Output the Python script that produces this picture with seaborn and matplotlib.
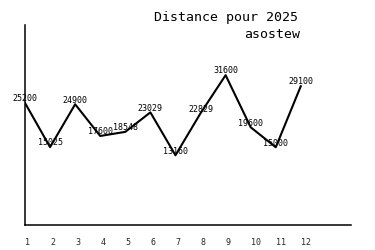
import matplotlib
matplotlib.use("Agg")
import matplotlib.pyplot as plt
import seaborn as sns
import pandas as pd

months = [1, 2, 3, 4, 5, 6, 7, 8, 9, 10, 11, 12]
distances = [25200, 15025, 24900, 17600, 18548, 23029, 13160, 22829, 31600, 19600, 15000, 29100]
tick_labels = ["1", "2", "3", "4", "5", "6", "7", "8", "9", "10", "11", "12"]
title = "Distance pour 2025"
subtitle = "asostew"

sns.set_style("white")
plt.rcParams['font.family'] = ['DejaVu Sans Mono', 'DejaVu Sans']

df = pd.DataFrame({"month": months, "distance": distances})

fig = plt.figure(figsize=(3.75, 2.5), dpi=100)
ax = fig.add_axes([25/375, 25/250, 326/375, 200/250])

sns.lineplot(data=df, x="month", y="distance", ax=ax, color="black", linewidth=1.5)

for m, d in zip(months, distances):
    ax.annotate(str(d), (m, d), xytext=(0, 3), textcoords="offset points",
                ha="center", va="center", fontsize=6, color="black")

ax.set_xlim(1, 14)
ax.set_ylim(-2900, 43150)
ax.set_xticks(months)
ax.set_xticklabels(tick_labels, fontsize=6, ha="left")
ax.set_yticks([])
ax.tick_params(axis="x", length=0, pad=9.5)
ax.set_xlabel("")
ax.set_ylabel("")
for s in ["top", "right"]:
    ax.spines[s].set_visible(False)
for s in ["left", "bottom"]:
    ax.spines[s].set_color("black")
    ax.spines[s].set_linewidth(1.1)

fig.text(298/375, 1 - 18/250, title, ha="right", va="center", fontsize=9.5, color="black")
fig.text(300/375, 1 - 34/250, subtitle, ha="right", va="center", fontsize=9.5, color="black")

fig.savefig("out.png", dpi=100)
